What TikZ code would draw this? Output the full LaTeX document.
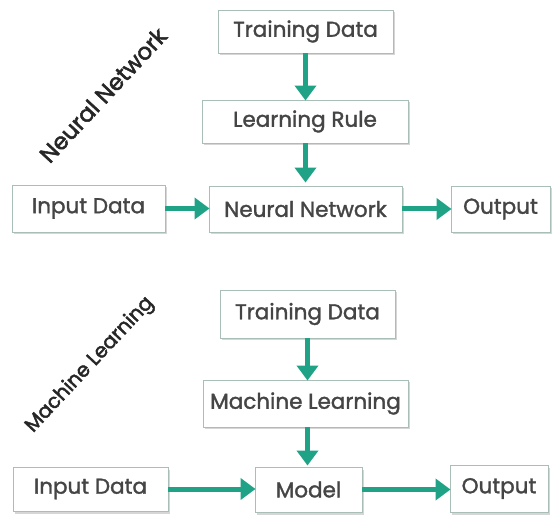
\documentclass[tikz,border=0pt]{standalone}
\usepackage{fontspec}
\setmainfont{Poppins}
\newfontfamily\boxfont{Poppins}[FakeBold=1.5]
\newfontfamily\titlefont{Poppins}[FakeBold=2.2]
\usetikzlibrary{arrows.meta,shadows,calc}
\definecolor{flowgreen}{HTML}{1FA286}
\definecolor{boxline}{HTML}{A9BEB7}
\definecolor{txtgray}{HTML}{454545}
\tikzset{
  stagebox/.style={draw=boxline, line width=0.9pt, fill=white, text=txtgray,
    font=\boxfont\fontsize{21.5}{23}\selectfont, inner sep=0pt,
    drop shadow={opacity=0.32, shadow xshift=1.5pt, shadow yshift=-2.5pt, fill=gray}},
  flow/.style={draw=flowgreen, line width=5pt,
    -{Triangle[width=21pt,length=15pt]}, shorten >=-1pt},
  sidetitle/.style={text=black!85, rotate=47}
}
\begin{document}
\begin{tikzpicture}[x=1pt,y=-1pt]
  \fill[white] (0,0) rectangle (560,521);
  \useasboundingbox (0,0) rectangle (560,521);

  % Neural network pipeline
  \node[stagebox, minimum width=175pt, minimum height=43pt] (tdA) at (305.5,31.5) {Training Data};
  \node[stagebox, minimum width=206pt, minimum height=43pt] (lr) at (305,121.5) {Learning Rule};
  \node[stagebox, minimum width=153pt, minimum height=47pt] (inA) at (88.5,208.5) {Input Data};
  \node[stagebox, minimum width=193pt, minimum height=46pt] (nn) at (305.5,209) {Neural Network};
  \node[stagebox, minimum width=99pt, minimum height=46pt] (outA) at (500.5,209) {Output};

  \draw[flow] (tdA.south) -- (tdA.south |- lr.north);
  \draw[flow] (lr.south -| tdA.south) -- ($(tdA.south |- nn.north)+(0,-4)$);
  \draw[flow] (inA.east) -- (inA.east -| nn.west);
  \draw[flow] (nn.east) -- (nn.east -| outA.west);

  \node[sidetitle, font=\titlefont\fontsize{23}{25}\selectfont] (titleA) at (103,95) {Neural Network};

  % Machine learning pipeline
  \node[stagebox, minimum width=175pt, minimum height=48pt] (tdB) at (307.5,314) {Training Data};
  \node[stagebox, minimum width=205pt, minimum height=47pt] (ml) at (305.5,403.5) {Machine Learning};
  \node[stagebox, minimum width=155pt, minimum height=44pt] (inB) at (90.5,489) {Input Data};
  \node[stagebox, minimum width=107pt, minimum height=45pt] (model) at (308.5,489.5) {Model};
  \node[stagebox, minimum width=98pt, minimum height=47pt] (outB) at (499,488.5) {Output};

  \draw[flow] (tdB.south) -- (tdB.south |- ml.north);
  \draw[flow] (ml.south -| tdB.south) -- ($(tdB.south |- model.north)+(0,-2)$);
  \draw[flow] (inB.east) -- (inB.east -| model.west);
  \draw[flow] (model.east) -- (model.east -| outB.west);

  \node[sidetitle, font=\titlefont\fontsize{20}{22}\selectfont] (titleB) at (90,365) {Machine Learning};
\end{tikzpicture}
\end{document}
